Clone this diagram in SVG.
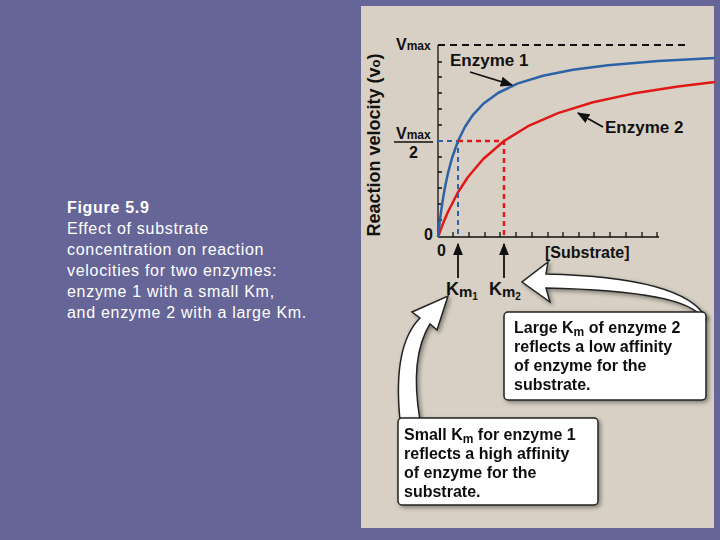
<svg xmlns="http://www.w3.org/2000/svg" width="720" height="540" viewBox="0 0 720 540">
<defs>
<style>
text{font-family:"Liberation Sans",Arial,sans-serif;font-weight:bold;fill:#111}
.cap{fill:#fff;font-weight:normal;font-size:16px;letter-spacing:0.7px}
.lab{font-size:16px}
.tk{stroke:#111;stroke-width:1.3}
.box{fill:#fff;stroke:#222;stroke-width:1.5}
.big{fill:#fff;stroke:#222;stroke-width:1.5}
</style>
<marker id="ah" viewBox="0 0 10 10" refX="9" refY="5" markerWidth="7" markerHeight="7" orient="auto"><path d="M0,1 L10,5 L0,9 Z" fill="#111"/></marker>
<filter id="sh"><feDropShadow dx="2" dy="2" stdDeviation="2" flood-opacity="0.4"/></filter>
</defs>
<rect width="720" height="540" fill="#656597"/>
<rect x="361" y="6" width="353" height="522" fill="#d8d0c4"/>
<g id="caption">
<text class="cap" x="67" y="213" style="font-weight:bold;fill:#fff">Figure 5.9</text>
<text class="cap" x="67" y="234">Effect of substrate</text>
<text class="cap" x="67" y="255">concentration on reaction</text>
<text class="cap" x="67" y="276">velocities for two enzymes:</text>
<text class="cap" x="67" y="297">enzyme 1 with a small Km,</text>
<text class="cap" x="67" y="318">and enzyme 2 with a large Km.</text>
</g>
<g id="axes">
<line x1="438" y1="45" x2="438" y2="237" class="tk" stroke-width="2"/>
<line x1="438" y1="237" x2="659" y2="237" class="tk" stroke-width="2"/>
<line x1="438" y1="45" x2="686" y2="45" stroke="#111" stroke-width="2" stroke-dasharray="7,5"/>
<path class="tk" d="M438,62h4M438,77h4M438,93h4M438,109h4M438,125h4M438,157h4M438,172h4M438,188h4M438,204h4M438,220h4M453,237v-5M469,237v-5M485,237v-5M500,237v-5M516,237v-5M532,237v-5M548,237v-5M563,237v-5M579,237v-5M594,237v-5M610,237v-5M626,237v-5M642,237v-5M657,237v-5"/>
<text class="lab" x="396" y="50">V<tspan font-size="12">max</tspan></text>
<text class="lab" x="396" y="139">V<tspan font-size="12">max</tspan></text>
<line x1="394" y1="142" x2="433" y2="142" stroke="#111" stroke-width="1.5"/>
<text class="lab" x="409" y="158">2</text>
<text class="lab" x="424" y="240">0</text>
<text class="lab" x="437" y="256">0</text>
<text class="lab" x="545" y="258">[Substrate]</text>
<text transform="translate(380,145) rotate(-90)" text-anchor="middle" font-size="18">Reaction velocity (v<tspan font-size="13">o</tspan>)</text>
</g>
<g id="curves" fill="none" stroke-width="2.5" stroke-linejoin="round">
<path stroke="#e01818" d="M438,237 L443,223.5 L448,211.7 L458,192.3 L468,177 L483,159.2 L504,141 L528,126.2 L558,113.1 L593,102.3 L633,93.6 L678,86.4 L715,82"/>
<path stroke="#2b62a8" d="M438,237 L439,227.9 L440,219.5 L441,212 L443,198.6 L445,187.2 L448,173 L452,158 L458,141 L465,126.7 L473,114.8 L483,104.1 L498,93 L518,83.4 L543,75.7 L573,69.8 L608,65.2 L658,61 L715,58"/>
<path stroke="#2b62a8" stroke-width="2" stroke-dasharray="5,4" d="M438,141 H458 V237"/>
<path stroke="#e01818" stroke-width="2.5" stroke-dasharray="5,4" d="M458,141 H504 V237"/>
</g>
<g id="connectors" stroke="#111" stroke-width="1.8" fill="none">
<line x1="470" y1="72" x2="512" y2="85" marker-end="url(#ah)"/>
<line x1="603" y1="127" x2="578" y2="113" marker-end="url(#ah)"/>
<line x1="458" y1="278" x2="458" y2="244" marker-end="url(#ah)"/>
<line x1="504" y1="278" x2="504" y2="244" marker-end="url(#ah)"/>
</g>
<g id="enzyme1"><text x="450" y="66" font-size="17">Enzyme 1</text></g>
<g id="enzyme2"><text x="605" y="133" font-size="17">Enzyme 2</text></g>
<text x="446" y="295" font-size="18">K<tspan font-size="15" dy="2">m</tspan><tspan font-size="10" dy="3">1</tspan></text>
<text x="489" y="295" font-size="18">K<tspan font-size="15" dy="2">m</tspan><tspan font-size="10" dy="3">2</tspan></text>
<g id="bigArrows" filter="url(#sh)">
<path class="big" d="M702,318 C692,300 640,290 546,288 L550,302 L522,282 L548,262 L546,274 C630,276 690,288 706,318 Z"/>
<path class="big" d="M400,420 C396,380 398,340 420,318 L412,312 L448,296 L437,330 L430,324 C414,350 414,385 420,420 Z"/>
</g>
<g id="box1" filter="url(#sh)">
<rect class="box" x="504" y="312" width="202" height="88" rx="4"/>
<text class="lab" x="514" y="333">Large K<tspan font-size="12" dy="3">m</tspan><tspan dy="-3"> of enzyme 2</tspan></text>
<text class="lab" x="514" y="352">reflects a low affinity</text>
<text class="lab" x="514" y="371">of enzyme for the</text>
<text class="lab" x="514" y="390">substrate.</text>
</g>
<g id="box2" filter="url(#sh)">
<rect class="box" x="398" y="418" width="200" height="87" rx="4"/>
<text class="lab" x="404" y="440">Small K<tspan font-size="12" dy="3">m</tspan><tspan dy="-3"> for enzyme 1</tspan></text>
<text class="lab" x="404" y="459">reflects a high affinity</text>
<text class="lab" x="404" y="478">of  enzyme for the</text>
<text class="lab" x="404" y="497">substrate.</text>
</g>
</svg>
